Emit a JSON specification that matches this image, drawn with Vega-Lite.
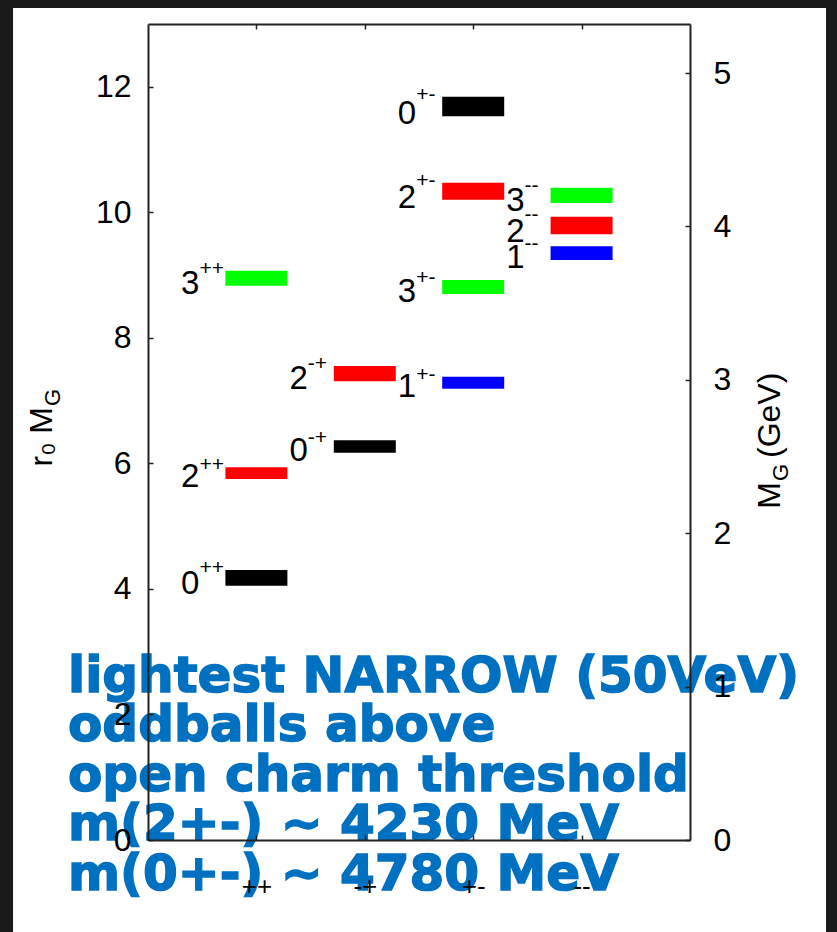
{
  "$schema": "https://vega.github.io/schema/vega-lite/v6.json",
  "width": 542,
  "height": 816,
  "autosize": "none",
  "padding": {"left": 148, "top": 24, "right": 147, "bottom": 92},
  "background": "#ffffff",
  "datasets": {
    "states": [
      {"state": "0++", "J": 0, "PC": "++", "col": 1, "lo": 4.05, "hi": 4.30},
      {"state": "2++", "J": 2, "PC": "++", "col": 1, "lo": 5.75, "hi": 5.94},
      {"state": "3++", "J": 3, "PC": "++", "col": 1, "lo": 8.83, "hi": 9.07},
      {"state": "0-+", "J": 0, "PC": "-+", "col": 2, "lo": 6.17, "hi": 6.37},
      {"state": "2-+", "J": 2, "PC": "-+", "col": 2, "lo": 7.31, "hi": 7.55},
      {"state": "0+-", "J": 0, "PC": "+-", "col": 3, "lo": 11.53, "hi": 11.84},
      {"state": "2+-", "J": 2, "PC": "+-", "col": 3, "lo": 10.20, "hi": 10.47},
      {"state": "3+-", "J": 3, "PC": "+-", "col": 3, "lo": 8.70, "hi": 8.92},
      {"state": "1+-", "J": 1, "PC": "+-", "col": 3, "lo": 7.19, "hi": 7.38},
      {"state": "3--", "J": 3, "PC": "--", "col": 4, "lo": 10.15, "hi": 10.39},
      {"state": "2--", "J": 2, "PC": "--", "col": 4, "lo": 9.65, "hi": 9.93},
      {"state": "1--", "J": 1, "PC": "--", "col": 4, "lo": 9.24, "hi": 9.46}
    ],
    "gevTicks": [{"GeV": 0}, {"GeV": 1}, {"GeV": 2}, {"GeV": 3}, {"GeV": 4}, {"GeV": 5}],
    "note": [{"note": "lightest NARROW (50VeV)\noddballs above\nopen charm threshold\nm(2+-) ~ 4230 MeV\nm(0+-) ~ 4780 MeV"}],
    "leftTitle": [{"t": "r₀ M", "sub": "G"}],
    "rightTitle": [{"t": "M", "sub": "G", "unit": "(GeV)"}],
    "frame": [{"edge": "border"}]
  },
  "layer": [
    {
      "data": {"name": "states"},
      "layer": [
        {
          "data": {"name": "frame"},
          "mark": {"type": "rect", "color": "#1a1a1a"},
          "encoding": {
            "x": {"datum": -1.5, "type": "quantitative", "scale": {"domain": [0, 5], "nice": false, "zero": false, "padding": 0}},
            "x2": {"datum": -1.245},
            "y": {"datum": 13.6, "type": "quantitative", "scale": {"domain": [0, 13], "nice": false}},
            "y2": {"datum": -1.7}
          }
        },
        {
          "data": {"name": "frame"},
          "mark": {"type": "rect", "color": "#1a1a1a"},
          "encoding": {
            "x": {"datum": -1.5, "type": "quantitative"},
            "x2": {"datum": 6.5},
            "y": {"datum": 13.6, "type": "quantitative"},
            "y2": {"datum": 13.255}
          }
        },
        {
          "data": {"name": "frame"},
          "mark": {"type": "rect", "color": "#1a1a1a"},
          "encoding": {
            "x": {"datum": 6.255, "type": "quantitative"},
            "x2": {"datum": 6.5},
            "y": {"datum": 13.6, "type": "quantitative"},
            "y2": {"datum": -1.7}
          }
        },
        {
          "data": {"name": "note"},
          "mark": {"type": "text", "align": "left", "baseline": "alphabetic", "lineBreak": "\n", "lineHeight": 49.5, "font": "DejaVu Sans", "fontWeight": "bold", "fontSize": 50, "color": "#0070c0", "stroke": "#0070c0", "strokeWidth": 1.5},
          "encoding": {
            "x": {"datum": -0.738, "type": "quantitative"},
            "y": {"datum": 2.358, "type": "quantitative"},
            "text": {"field": "note"}
          }
        },
        {
          "mark": {"type": "bar", "orient": "vertical", "size": 62},
          "encoding": {
            "x": {"field": "col", "type": "quantitative", "scale": {"domain": [0, 5], "nice": false, "zero": false, "padding": 0},
                  "axis": {"orient": "bottom", "values": [1, 2, 3, 4], "title": null, "zindex": 2,
                           "labelExpr": "['', '++', '-+', '+-', '--'][datum.value]",
                           "labelFontSize": 26, "labelPadding": 38}},
            "y": {"field": "lo", "type": "quantitative", "scale": {"domain": [0, 13], "nice": false},
                  "axis": {"orient": "left", "values": [0, 2, 4, 6, 8, 10, 12], "format": "d", "title": null, "labelPadding": 22, "zindex": 2}},
            "y2": {"field": "hi"},
            "color": {"field": "J", "type": "nominal", "legend": null,
                      "scale": {"domain": [0, 1, 2, 3], "range": ["#000000", "#0000ff", "#ff0000", "#00ff00"]}}
          }
        },
        {
          "mark": {"type": "text", "align": "right", "baseline": "alphabetic", "dx": -57, "dy": 8, "font": "Liberation Sans", "fontSize": 33, "color": "#000000"},
          "encoding": {
            "x": {"field": "col", "type": "quantitative"},
            "y": {"field": "lo", "type": "quantitative"},
            "text": {"field": "J"}
          }
        },
        {
          "mark": {"type": "text", "align": "left", "baseline": "middle", "dx": -57, "dy": -2, "font": "Liberation Sans", "fontSize": 21, "color": "#000000"},
          "encoding": {
            "x": {"field": "col", "type": "quantitative"},
            "y": {"field": "hi", "type": "quantitative"},
            "text": {"field": "PC"}
          }
        },
        {
          "data": {"name": "leftTitle"},
          "mark": {"type": "text", "angle": 270, "align": "right", "baseline": "alphabetic", "font": "Liberation Sans", "fontSize": 32, "color": "#000000"},
          "encoding": {
            "x": {"datum": -0.886, "type": "quantitative"},
            "y": {"datum": 6.898, "type": "quantitative"},
            "text": {"field": "t"}
          }
        },
        {
          "data": {"name": "leftTitle"},
          "mark": {"type": "text", "angle": 270, "align": "left", "baseline": "alphabetic", "dx": 1, "dy": 8, "font": "Liberation Sans", "fontSize": 22, "color": "#000000"},
          "encoding": {
            "x": {"datum": -0.886, "type": "quantitative"},
            "y": {"datum": 6.898, "type": "quantitative"},
            "text": {"field": "sub"}
          }
        },
        {
          "data": {"name": "rightTitle"},
          "mark": {"type": "text", "angle": 270, "align": "right", "baseline": "alphabetic", "font": "Liberation Sans", "fontSize": 32, "color": "#000000"},
          "encoding": {
            "x": {"datum": 5.83, "type": "quantitative"},
            "y": {"datum": 5.703, "type": "quantitative"},
            "text": {"field": "t"}
          }
        },
        {
          "data": {"name": "rightTitle"},
          "mark": {"type": "text", "angle": 270, "align": "left", "baseline": "alphabetic", "dx": 1, "dy": 8, "font": "Liberation Sans", "fontSize": 22, "color": "#000000"},
          "encoding": {
            "x": {"datum": 5.83, "type": "quantitative"},
            "y": {"datum": 5.703, "type": "quantitative"},
            "text": {"field": "sub"}
          }
        },
        {
          "data": {"name": "rightTitle"},
          "mark": {"type": "text", "angle": 270, "align": "left", "baseline": "alphabetic", "font": "Liberation Sans", "fontSize": 32, "color": "#000000"},
          "encoding": {
            "x": {"datum": 5.83, "type": "quantitative"},
            "y": {"datum": 6.086, "type": "quantitative"},
            "text": {"field": "unit"}
          }
        }
      ]
    },
    {
      "data": {"name": "states"},
      "mark": {"type": "point", "opacity": 0},
      "encoding": {
        "x": {"field": "col", "type": "quantitative", "scale": {"domain": [0, 5], "nice": false, "zero": false, "padding": 0},
              "axis": {"orient": "top", "values": [1, 2, 3, 4], "labels": false, "title": null, "zindex": 2}},
        "y": {"field": "lo", "type": "quantitative", "scale": {"domain": [0, 13], "nice": false}, "axis": null}
      }
    },
    {
      "data": {"name": "gevTicks"},
      "mark": {"type": "point", "opacity": 0},
      "encoding": {
        "y": {"field": "GeV", "type": "quantitative", "scale": {"domain": [0, 5.32], "nice": false},
              "axis": {"orient": "right", "values": [0, 1, 2, 3, 4, 5], "title": null, "labelPadding": 28, "zindex": 2}}
      }
    }
  ],
  "resolve": {"scale": {"y": "independent"}, "axis": {"x": "independent", "y": "independent"}},
  "config": {
    "view": {"stroke": null},
    "axis": {
      "grid": false,
      "domainColor": "#222222",
      "domainWidth": 2,
      "tickColor": "#222222",
      "tickWidth": 1.5,
      "tickSize": -5,
      "labelColor": "#000000",
      "labelFont": "Liberation Sans",
      "labelFontSize": 32,
      "labelOverlap": false,
      "labelFlush": false,
      "labelBound": false
    }
  }
}
